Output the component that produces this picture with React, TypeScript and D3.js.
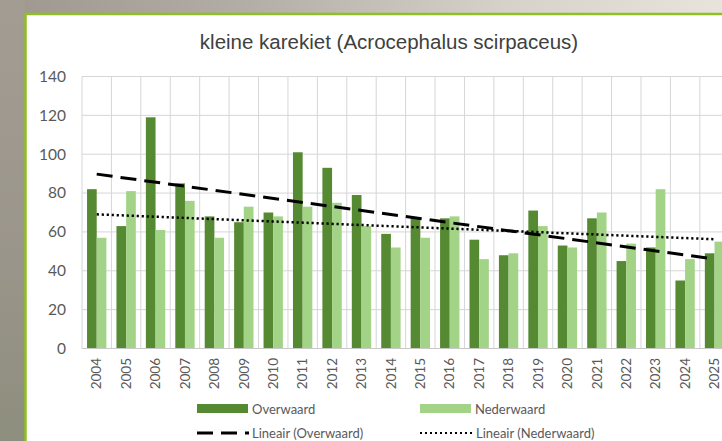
import React from "react";
import * as d3 from "d3";

const years = ["2004","2005","2006","2007","2008","2009","2010","2011","2012","2013","2014","2015","2016","2017","2018","2019","2020","2021","2022","2023","2024","2025"];
const overwaard = [82,63,119,85,68,65,70,101,93,79,59,67,67,56,48,71,53,67,45,52,35,49];
const nederwaard = [57,81,61,76,57,73,68,73,75,63,52,57,68,46,49,63,52,70,54,82,46,55];
const seriesNames = ["Overwaard", "Nederwaard"];
const yTicks = [0,20,40,60,80,100,120,140];
const title = "kleine karekiet (Acrocephalus scirpaceus)";

const W = 722, H = 441;
const plotLeft = 82, plotTop = 76.5, plotBottom = 348.5;
const step = 29.42;
const DARK = "#558a33";
const LIGHT = "#a3d386";
const GRID = "#d6d6d6";
const TXT = "#595959";

function regression(vals: number[]) {
  const n = vals.length;
  const xs = vals.map((_, i) => i);
  const mx = d3.mean(xs)!;
  const my = d3.mean(vals)!;
  let num = 0, den = 0;
  for (let i = 0; i < n; i++) { num += (xs[i] - mx) * (vals[i] - my); den += (xs[i] - mx) ** 2; }
  const b = num / den;
  const a = my - b * mx;
  return xs.map((x) => ({ i: x, v: a + b * x }));
}

export default function App() {
  const x = d3.scaleBand<string>().domain(years).range([plotLeft, plotLeft + step * years.length]).paddingInner(0).paddingOuter(0);
  const x1 = d3.scaleBand<string>().domain(seriesNames).range([0, x.bandwidth()]).paddingInner(0).paddingOuter(0.52);
  const y = d3.scaleLinear().domain([0, 140]).range([plotBottom, plotTop]);
  const data = [overwaard, nederwaard];
  const colors = [DARK, LIGHT];

  const line = d3.line<{ i: number; v: number }>()
    .x((d) => x(years[d.i])! + x.bandwidth() / 2)
    .y((d) => y(d.v));
  const trendO = regression(overwaard);
  const trendN = regression(nederwaard);
  const endsO = [trendO[0], trendO[trendO.length - 1]];
  const endsN = [trendN[0], trendN[trendN.length - 1]];

  const right = plotLeft + step * years.length;
  const font = "Lato, Open Sans, sans-serif";

  return (
    <svg width={W} height={H} style={{ position: "absolute", left: 0, top: 0 }} xmlns="http://www.w3.org/2000/svg">
      <defs>
        <linearGradient id="bgH" x1="0" y1="0" x2="1" y2="0">
          <stop offset="0" stopColor="#9e978e" />
          <stop offset="0.35" stopColor="#b3aea6" />
          <stop offset="0.7" stopColor="#d6d2ca" />
          <stop offset="1" stopColor="#e8e4dc" />
        </linearGradient>
        <linearGradient id="bgV" x1="0" y1="0" x2="0" y2="1">
          <stop offset="0" stopColor="#a39c93" />
          <stop offset="0.6" stopColor="#9a958a" />
          <stop offset="1" stopColor="#8d8e7d" />
        </linearGradient>
      </defs>
      <rect x={0} y={0} width={W} height={H} fill="url(#bgH)" />
      <rect x={0} y={0} width={25} height={H} fill="url(#bgV)" />
      <rect x={25.5} y={14} width={W + 10} height={H + 10} fill="#ffffff" stroke="#8fbf22" strokeWidth={2.5} />

      <text x={389} y={49} textAnchor="middle" fontFamily="Liberation Sans, Arial, sans-serif" fontSize={20.5} fill="#404040">{title}</text>

      {/* grid */}
      {yTicks.map((t) => (
        <line key={"h" + t} x1={plotLeft} x2={right} y1={y(t)} y2={y(t)} stroke={GRID} strokeWidth={1} />
      ))}
      {years.map((yr) => (
        <line key={"v" + yr} x1={x(yr)!} x2={x(yr)!} y1={plotTop} y2={plotBottom} stroke={GRID} strokeWidth={1} />
      ))}
      <line x1={right} x2={right} y1={plotTop} y2={plotBottom} stroke={GRID} strokeWidth={1} />

      {/* bars */}
      {data.map((vals, si) =>
        vals.map((v, i) => (
          <rect key={si + "-" + i}
            x={x(years[i])! + x1(seriesNames[si])!}
            y={y(v)}
            width={x1.bandwidth()}
            height={y(0) - y(v)}
            fill={colors[si]} />
        ))
      )}
      <line x1={plotLeft} x2={right} y1={y(0)} y2={y(0)} stroke="#c8c8c8" strokeWidth={1} />

      {/* trend lines */}
      <path d={line(endsO)!} fill="none" stroke="#000" strokeWidth={3} strokeDasharray="16,8" />
      <path d={line(endsN)!} fill="none" stroke="#000" strokeWidth={2.5} strokeDasharray="2.2,2.8" />

      {/* y ticks */}
      {yTicks.map((t) => (
        <text key={"yt" + t} x={66} y={y(t)} dy="0.35em" textAnchor="end" fontFamily={font} fontSize={15.5} fill={TXT}>{t}</text>
      ))}
      {/* x ticks */}
      {years.map((yr) => (
        <text key={"xt" + yr} transform={`translate(${x(yr)! + x.bandwidth() / 2},${358}) rotate(-90)`} textAnchor="end" dy="0.35em" fontFamily={font} fontSize={13.5} fill={TXT}>{yr}</text>
      ))}

      {/* legend */}
      <rect x={197} y={404} width={51} height={9} fill={DARK} />
      <text x={252} y={409} dy="0.35em" fontFamily={font} fontSize={13} fill={TXT}>Overwaard</text>
      <rect x={420} y={404} width={51} height={9} fill={LIGHT} />
      <text x={475} y={409} dy="0.35em" fontFamily={font} fontSize={13} fill={TXT}>Nederwaard</text>
      <line x1={197} x2={249} y1={433} y2={433} stroke="#000" strokeWidth={3} strokeDasharray="16,8" />
      <text x={252} y={433} dy="0.35em" fontFamily={font} fontSize={13} fill={TXT}>Lineair (Overwaard)</text>
      <line x1={420} x2={472} y1={433} y2={433} stroke="#000" strokeWidth={2.2} strokeDasharray="2,3" />
      <text x={476} y={433} dy="0.35em" fontFamily={font} fontSize={13} fill={TXT}>Lineair (Nederwaard)</text>
    </svg>
  );
}
